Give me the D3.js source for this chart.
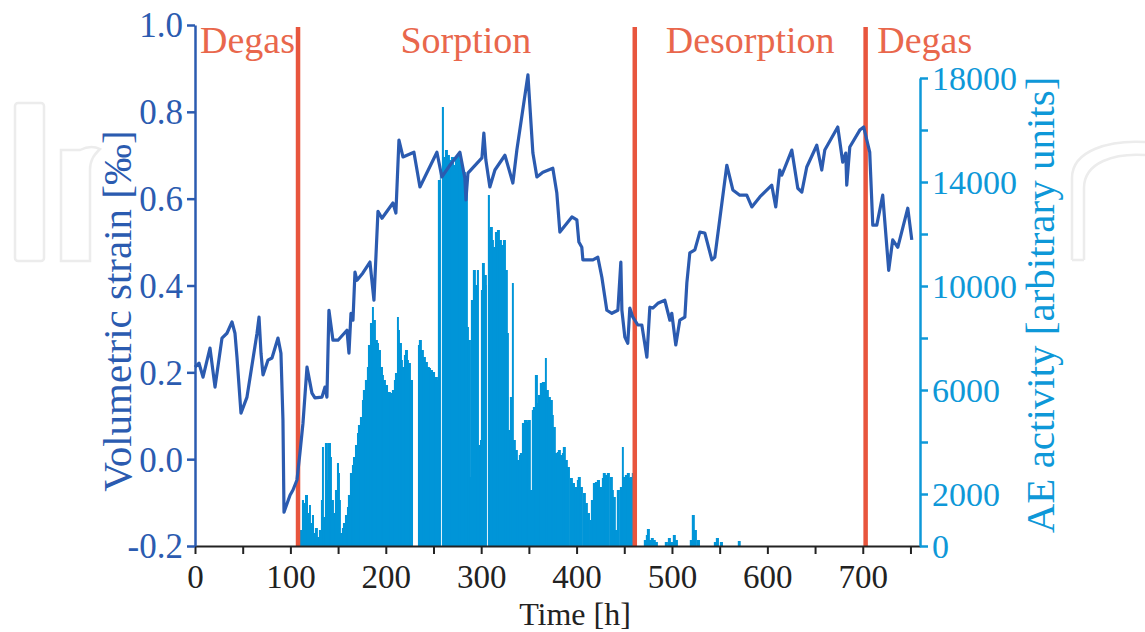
<!DOCTYPE html>
<html>
<head>
<meta charset="utf-8">
<script src="https://cdn.jsdelivr.net/npm/d3@7"></script>
<style>
  body { margin: 0; background: #fff; }
  svg { display: block; font-family: "Liberation Serif", "Times New Roman", serif; }
</style>
</head>
<body>
<script>
// 1: DATA
const strainTime = [0, 4.2, 8.4, 15.7, 21.0, 28.3, 33.5, 38.8, 41.9, 44.0,
  48.2, 54.5, 65.0, 67.1, 69.2, 71.3, 76.5, 80.7, 87.0, 90.1,
  92.2, 93.3, 99.6, 102.7, 106.9, 110.0, 113.2, 117.4, 122.6, 125.7,
  133.1, 136.2, 138.3, 140.4, 144.6, 149.9, 159.3, 161.4, 163.5, 165.6,
  167.7, 169.8, 176.0, 183.4, 187.6, 191.8, 196.0, 207.5, 210.6, 213.8,
  218.0, 229.5, 235.8, 253.6, 258.8, 267.2, 277.7, 282.9, 284.0, 286.1,
  300.8, 302.8, 304.9, 309.1, 314.4, 324.9, 333.2, 337.4, 349.0, 354.2,
  358.4, 364.7, 375.1, 379.3, 382.5, 395.1, 400.3, 402.4, 405.5, 406.6,
  417.1, 422.3, 426.5, 431.7, 437.0, 443.3, 446.4, 447.5, 450.6, 453.7,
  455.8, 459.0, 464.2, 468.4, 473.7, 476.8, 479.9, 485.2, 492.5, 497.8,
  499.8, 504.0, 508.2, 513.5, 515.6, 518.7, 524.0, 529.2, 534.4, 541.8,
  544.9, 557.5, 563.8, 571.1, 578.4, 583.7, 592.1, 604.6, 608.8, 613.0,
  615.1, 625.6, 631.9, 636.1, 641.3, 651.8, 657.0, 660.2, 673.8, 679.0,
  682.2, 683.2, 686.4, 696.9, 701.0, 707.3, 710.5, 714.7, 720.9, 727.2,
  731.4, 736.7, 747.2, 751.4];
const strainValue = [0.212, 0.221, 0.189, 0.256, 0.166, 0.279, 0.290, 0.316, 0.290, 0.235,
  0.106, 0.143, 0.290, 0.327, 0.244, 0.194, 0.228, 0.233, 0.279, 0.244,
  0.090, -0.122, -0.083, -0.071, -0.048, 0.014, 0.083, 0.212, 0.152, 0.141,
  0.143, 0.166, 0.143, 0.343, 0.274, 0.274, 0.297, 0.244, 0.336, 0.320,
  0.431, 0.412, 0.429, 0.454, 0.366, 0.571, 0.555, 0.590, 0.567, 0.735,
  0.696, 0.707, 0.627, 0.707, 0.650, 0.677, 0.707, 0.647, 0.597, 0.659,
  0.694, 0.751, 0.689, 0.627, 0.666, 0.700, 0.636, 0.712, 0.885, 0.705,
  0.650, 0.661, 0.670, 0.613, 0.523, 0.558, 0.551, 0.500, 0.488, 0.459,
  0.459, 0.465, 0.419, 0.343, 0.336, 0.343, 0.454, 0.343, 0.281, 0.267,
  0.348, 0.327, 0.309, 0.309, 0.235, 0.350, 0.348, 0.359, 0.366, 0.320,
  0.336, 0.263, 0.320, 0.327, 0.406, 0.475, 0.482, 0.523, 0.521, 0.459,
  0.465, 0.677, 0.620, 0.608, 0.608, 0.581, 0.604, 0.631, 0.581, 0.666,
  0.654, 0.712, 0.624, 0.615, 0.673, 0.723, 0.666, 0.712, 0.765, 0.684,
  0.705, 0.631, 0.719, 0.758, 0.765, 0.707, 0.539, 0.539, 0.608, 0.435,
  0.505, 0.488, 0.578, 0.505];

// AE activity (arbitrary units)
const aeTime = [110.0, 112.1, 113.2, 115.3, 117.4, 119.5, 120.5, 122.6, 123.7, 125.7,
  127.8, 129.9, 132.0, 133.1, 134.1, 136.2, 138.3, 139.4, 141.5, 142.5,
  144.6, 146.7, 148.8, 149.9, 150.9, 151.9, 154.0, 155.1, 157.2, 159.3,
  160.3, 162.4, 164.5, 165.6, 167.7, 169.8, 170.8, 172.9, 175.0, 176.0,
  178.1, 180.2, 181.3, 183.4, 185.5, 186.5, 188.6, 190.7, 191.8, 193.9,
  196.0, 197.0, 199.1, 202.2, 204.3, 206.4, 208.5, 209.6, 211.7, 212.7,
  213.8, 215.9, 216.9, 219.0, 220.1, 222.2, 223.2, 225.3,
  233.7, 234.7, 236.8, 238.9, 241.0, 243.1, 245.2, 246.3, 248.4, 251.5, 253.6,
  254.6, 256.7, 257.8, 258.8, 259.9, 262.0, 264.1, 266.2, 268.3, 270.4,
  272.5, 274.5, 276.6, 278.7, 280.8, 282.9, 284.0,
  285.0, 286.1, 288.2, 289.2, 291.3, 293.4, 295.5, 296.6, 298.7, 299.7,
  300.8, 302.8, 304.9, 306.0, 307.0, 308.1, 309.1, 311.2, 312.3, 314.4,
  316.5, 318.6, 320.7, 322.8, 324.9,
  326.9, 328.0, 330.1, 332.2, 333.2, 335.3, 337.4, 339.5, 340.6, 342.7,
  344.8, 345.8, 347.9, 349.0, 351.0, 353.1, 354.2, 356.3, 358.4, 359.4,
  361.5, 363.6, 364.7, 366.8, 367.8, 369.9, 372.0, 374.1, 375.1, 377.2,
  379.3, 380.4, 382.5, 384.6, 385.6, 387.7, 389.8, 393.0, 395.1, 398.2,
  400.3, 401.3, 403.4, 406.6, 408.7, 410.8, 413.9, 415.0, 417.1, 419.2,
  421.3, 424.4, 426.5, 427.5, 429.6, 431.7, 434.9, 437.0, 438.0, 440.1,
  442.2, 445.4, 447.5, 448.5, 450.6, 452.7, 454.8, 455.8, 457.9, 460.0,
  470.5, 472.6, 473.7, 475.8, 477.8, 479.9, 482.0, 492.5, 495.7, 497.8,
  500.9, 503.0, 518.7, 520.8, 522.9, 526.1, 543.9, 546.0, 550.2, 569.0];
const aeValue = [615, 1769, 1654, 1962, 1269, 1577, 885, 1192, 500, 692,
  346, 615, 1769, 3808, 1115, 3961, 2538, 3961, 3423, 1769,
  1269, 2154, 3192, 2808, 1769, 500, 692, 885, 1192, 1500,
  1962, 2808, 3115, 3423, 3885, 4346, 4654, 4961, 5615, 6000,
  6385, 6885, 7731, 8577, 9192, 8692, 7923, 7808, 7538, 6885,
  6577, 6385, 6192, 5923, 5885, 6000, 6385, 6654, 8808, 8308,
  7808, 7154, 6885, 7346, 7538, 7154, 7038, 6385,
  7731, 7923, 7538, 7269, 7077, 6885, 6846, 6769, 6692, 6500, 6385,
  14077, 14654, 0, 16885, 14962, 15231, 15038, 14846, 14962, 14654,
  14962, 15038, 14846, 14654, 14385, 14154, 13885,
  8423, 7923, 2654, 9462, 10615, 10038, 10615, 3885, 4077, 9846,
  10885, 10423, 10038, 0, 13500, 12154, 12269, 11769, 11500, 12077,
  12154, 11769, 11577, 11769, 10615,
  8192, 4462, 5731, 10115, 4077, 3692, 3308, 3500, 3577, 4731,
  4846, 4846, 4769, 4846, 2154, 5231, 5346, 6577, 5500, 5808,
  6269, 6308, 6308, 7231, 6000, 5731, 5615, 5038, 4577, 3577,
  3615, 3692, 3500, 3577, 3808, 3308, 3038, 2615, 2423, 2269,
  2538, 2654, 2269, 2038, 1654, 1269, 1000, 1769, 2423, 2462,
  2538, 2269, 2615, 2808, 2731, 2808, 2654, 2154, 1885, 615,
  2154, 2269, 3808, 2654, 2731, 2808, 2615, 2654, 2808, 2731,
  231, 423, 654, 231, 308, 231, 154, 154, 308, 154,
  423, 231, 231, 1192, 615, 231, 154, 308, 154, 192];

// phase boundaries [h] and labels
const phaseBounds = [108, 461, 703];
const phaseNames = ["Degas", "Sorption", "Desorption", "Degas"];
const phaseLabelT = [55, 284, 582, 765];

const strainTicks = [-0.2, 0, 0.2, 0.4, 0.6, 0.8, 1.0];
const aeTicks = d3.range(0, 18001, 2000);
const aeLabelled = [0, 2000, 6000, 10000, 14000, 18000];
const timeTicks = d3.range(0, 751, 50);

// 2: SETUP
const W = 1145, H = 632;
const blue = "#2b5bb0", aeBlue = "#0e98d8", barBlue = "#0095d8", red = "#e8553d";

const svg = d3.select("body").append("svg")
  .attr("width", W).attr("height", H);

// faint watermark
const wm = svg.append("g").attr("fill", "none").attr("stroke", "#ececec").attr("stroke-width", 2.5);
wm.append("rect").attr("x", 15).attr("y", 103).attr("width", 29).attr("height", 158).attr("rx", 3);
wm.append("path").attr("d", "M61,261 V150 H80 C88,146 94,146 100,149 C94,155 90,160 90,170 V261 Z");
wm.append("path").attr("d", "M1072,260 V178 C1072,150 1110,140 1145,142 M1084,260 V188 C1084,162 1115,153 1145,155 M1072,260 H1084");

// 3: SCALES
const x = d3.scaleLinear().domain([0, 760]).range([195, 920]);
const yL = d3.scaleLinear().domain([-0.2, 1.0]).range([546, 25]);
const yR = d3.scaleLinear().domain([0, 18000]).range([546, 78]);

// 4: PLOT DATA
// each bar runs to the next sample (capped), overlapping a little so no seams show
const bars = aeTime.map((t, i) => ({
  t, v: aeValue[i],
  next: i < aeTime.length - 1 ? aeTime[i + 1] : t + 2,
  nextZero: i < aeTime.length - 1 && aeValue[i + 1] === 0
}));
svg.append("g").selectAll("rect")
  .data(bars)
  .enter().append("rect")
  .attr("x", d => x(d.t))
  .attr("width", d => Math.min(x(d.next) - x(d.t), x(2.2) - x(0)) + (d.nextZero ? -0.2 : 1))
  .attr("y", d => yR(d.v))
  .attr("height", d => yR(0) - yR(d.v))
  .attr("fill", barBlue);

svg.append("g").selectAll("line")
  .data(phaseBounds)
  .enter().append("line")
  .attr("x1", d => x(d)).attr("x2", d => x(d))
  .attr("y1", yL(1.0) + 2).attr("y2", yL(-0.2))
  .attr("stroke", red).attr("stroke-width", 4.5);

const strain = strainTime.map((t, i) => ({ t, s: strainValue[i] }));
svg.append("path")
  .datum(strain)
  .attr("d", d3.line().x(d => x(d.t)).y(d => yL(d.s)))
  .attr("fill", "none")
  .attr("stroke", blue)
  .attr("stroke-width", 3.2)
  .attr("stroke-linejoin", "round");

// 5: AXES
const gx = svg.append("g")
  .attr("transform", `translate(0,${yL(-0.2)})`)
  .call(d3.axisBottom(x).tickValues(timeTicks).tickSize(8).tickSizeOuter(0)
    .tickFormat(d => d % 100 === 0 ? d : ""));
gx.selectAll("text").attr("dy", null).attr("y", 42).attr("font-size", 33)
  .attr("font-family", "Liberation Serif").attr("fill", "#222");
gx.selectAll("line, path").attr("stroke", "#222").attr("stroke-width", 2);

const gl = svg.append("g")
  .attr("transform", `translate(${x(0)},0)`)
  .call(d3.axisLeft(yL).tickValues(strainTicks).tickSize(8).tickSizeOuter(0)
    .tickFormat(d => d.toFixed(1)));
gl.selectAll("text").attr("font-size", 35).attr("font-family", "Liberation Serif")
  .attr("fill", blue).attr("x", -12).attr("dy", "0.34em");
gl.selectAll("line, path").attr("stroke", blue).attr("stroke-width", 2.5);

const gr = svg.append("g")
  .attr("transform", `translate(${x(760)},0)`)
  .call(d3.axisRight(yR).tickValues(aeTicks).tickSize(8).tickSizeOuter(0)
    .tickFormat(d => aeLabelled.includes(d) ? d : ""));
gr.selectAll("text").attr("font-size", 34).attr("font-family", "Liberation Serif")
  .attr("fill", aeBlue).attr("x", 12).attr("dy", "0.34em");
gr.selectAll("line, path").attr("stroke", aeBlue).attr("stroke-width", 2.5);

// 6: LABELS
svg.append("text")
  .attr("transform", "translate(131,311) rotate(-90)")
  .attr("text-anchor", "middle")
  .attr("font-size", 41)
  .attr("fill", blue)
  .text("Volumetric strain [‰]");

svg.append("text")
  .attr("transform", "translate(1054,305) rotate(-90)")
  .attr("text-anchor", "middle")
  .attr("font-size", 41)
  .attr("fill", aeBlue)
  .text("AE activity [arbitrary units]");

svg.append("text")
  .attr("x", 575).attr("y", 624.5)
  .attr("text-anchor", "middle")
  .attr("font-size", 32)
  .attr("fill", "#222")
  .text("Time [h]");

svg.append("g").selectAll("text")
  .data(phaseNames)
  .enter().append("text")
  .attr("x", (d, i) => x(phaseLabelT[i]))
  .attr("y", 53)
  .attr("text-anchor", "middle")
  .attr("font-size", 38)
  .attr("fill", "#e9674c")
  .text(d => d);
</script>
</body>
</html>
